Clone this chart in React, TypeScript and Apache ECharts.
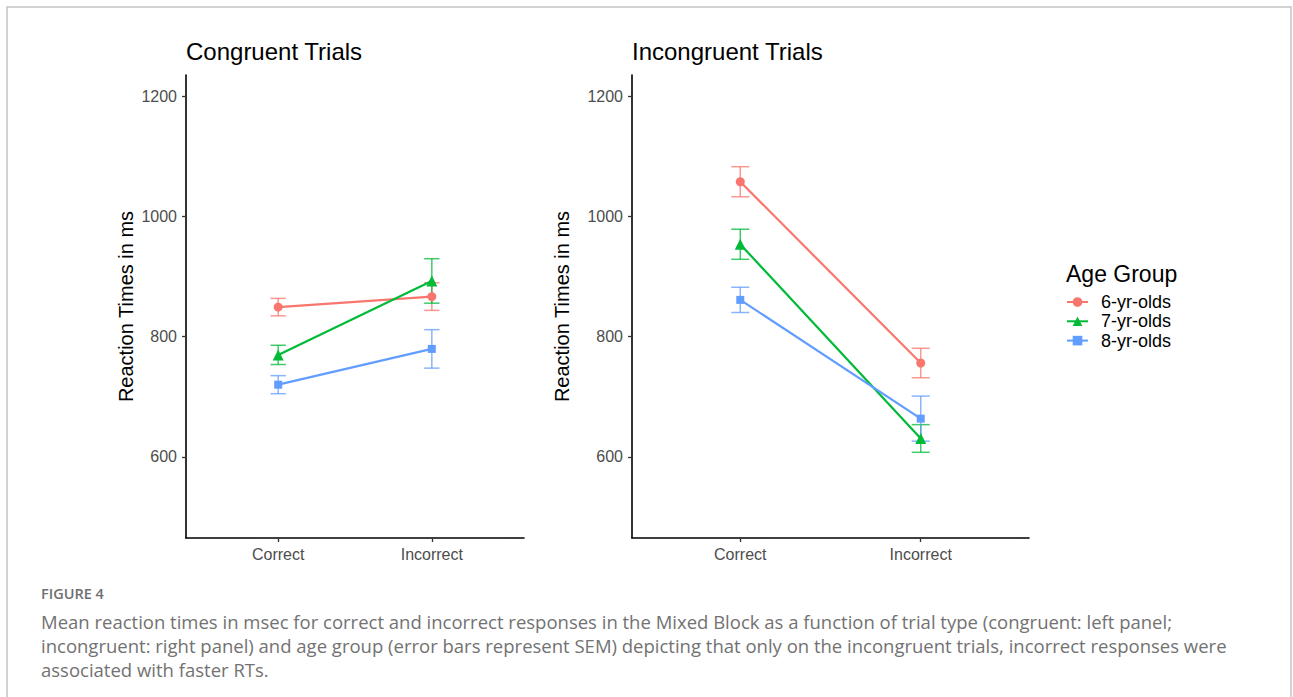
import React, { useEffect, useRef } from 'react';
import * as echarts from 'echarts';

const categories = ['Correct', 'Incorrect'];
const groups = ['6-yr-olds', '7-yr-olds', '8-yr-olds'];
const groupColors = ['#F8766D', '#00BA38', '#619CFF'];
const groupSymbols = ['circle', 'triangle', 'rect'];
const groupSymbolSizes = [9, 11, 8];

// mean reaction times (ms) per group: [Correct, Incorrect]
const congruentMeans = [
  [849, 866.5],
  [769.5, 892.5],
  [720, 779.5],
];
const congruentSem = [
  [14.5, 23],
  [16, 37],
  [15, 32],
];
const incongruentMeans = [
  [1057.5, 756],
  [953.5, 630.5],
  [861, 663.5],
];
const incongruentSem = [
  [25, 24.5],
  [25, 23],
  [21, 37.5],
];

const yTicks = [600, 800, 1000, 1200];
const xTickPositions = [1, 2];
const panelTitles = ['Congruent Trials', 'Incongruent Trials'];
const yAxisTitle = 'Reaction Times in ms';
const legendTitle = 'Age Group';
const captionHeading = 'FIGURE 4';
const captionLines = [
  'Mean reaction times in msec for correct and incorrect responses in the Mixed Block as a function of trial type (congruent: left panel;',
  'incongruent: right panel) and age group (error bars represent SEM) depicting that only on the incongruent trials, incorrect responses were',
  'associated with faster RTs.',
];

const FONT = '"Liberation Sans", Arial, sans-serif';
const CAPTION_FONT = '"Open Sans", "Noto Sans", sans-serif';

export default function App() {
  const ref = useRef<HTMLDivElement>(null);

  useEffect(() => {
    if (!ref.current) return;
    const chart = echarts.init(ref.current, undefined, { renderer: 'svg' });

    const panels = [
      { means: congruentMeans, sem: congruentSem },
      { means: incongruentMeans, sem: incongruentSem },
    ];
    const grids = [
      { left: 186, top: 75, width: 338, height: 463 },
      { left: 632, top: 75, width: 397, height: 463 },
    ];

    const xAxes = grids.map((_, i) => ({
      type: 'value',
      gridIndex: i,
      min: 0.4,
      max: 2.6,
      splitLine: { show: false },
      axisLine: { show: true, onZero: false, lineStyle: { color: '#000', width: 1.6 } },
      axisTick: {
        show: true,
        length: 4,
        customValues: xTickPositions,
        lineStyle: { color: '#333', width: 1.3 },
      },
      axisLabel: {
        customValues: xTickPositions,
        formatter: (v: number) => categories[Math.round(v) - 1] ?? '',
        fontSize: 16,
        color: '#4D4D4D',
        margin: 8,
        fontFamily: FONT,
      },
    }));

    const yAxes = grids.map((_, i) => ({
      type: 'value',
      gridIndex: i,
      min: 465,
      max: 1235,
      splitLine: { show: false },
      axisLine: { show: true, onZero: false, lineStyle: { color: '#000', width: 1.6 } },
      axisTick: {
        show: true,
        length: 4,
        customValues: yTicks,
        lineStyle: { color: '#333', width: 1.3 },
      },
      axisLabel: {
        customValues: yTicks,
        formatter: (v: number) => String(v),
        fontSize: 16,
        color: '#4D4D4D',
        margin: 9,
        fontFamily: FONT,
      },
      name: yAxisTitle,
      nameLocation: 'middle',
      nameGap: i === 0 ? 50 : 60,
      nameRotate: 90,
      nameTextStyle: { fontSize: 20, color: '#000', fontFamily: FONT },
    }));

    const series: any[] = [];
    panels.forEach((panel, p) => {
      groups.forEach((g, gi) => {
        series.push({
          name: g,
          type: 'line',
          xAxisIndex: p,
          yAxisIndex: p,
          data: panel.means[gi].map((m, ci) => [xTickPositions[ci], m]),
          symbol: groupSymbols[gi],
          symbolSize: groupSymbolSizes[gi],
          showSymbol: true,
          lineStyle: { color: groupColors[gi], width: 2.2 },
          itemStyle: { color: groupColors[gi] },
          z: 3,
        });
      });
    });
    panels.forEach((panel, p) => {
      groups.forEach((g, gi) => {
        const color = groupColors[gi];
        series.push({
          name: g,
          type: 'custom',
          xAxisIndex: p,
          yAxisIndex: p,
          z: 2,
          data: panel.means[gi].map((m, ci) => [
            xTickPositions[ci],
            m - panel.sem[gi][ci],
            m + panel.sem[gi][ci],
          ]),
          encode: { x: 0, y: [1, 2] },
          renderItem: (params: any, api: any) => {
            const x = api.value(0);
            const lo = api.value(1);
            const hi = api.value(2);
            const top = api.coord([x, hi]);
            const bot = api.coord([x, lo]);
            const hw = api.size([0.05, 0])[0];
            const style = { stroke: color, lineWidth: 1.5, opacity: 0.75 };
            return {
              type: 'group',
              children: [
                { type: 'line', shape: { x1: top[0], y1: top[1], x2: bot[0], y2: bot[1] }, style },
                { type: 'line', shape: { x1: top[0] - hw, y1: top[1], x2: top[0] + hw, y2: top[1] }, style },
                { type: 'line', shape: { x1: bot[0] - hw, y1: bot[1], x2: bot[0] + hw, y2: bot[1] }, style },
              ],
            };
          },
        });
      });
    });

    const graphics: any[] = [
      {
        type: 'rect',
        shape: { x: 7, y: 7, width: 1284, height: 720 },
        style: { fill: 'none', stroke: '#c4c4c4', lineWidth: 1.5 },
        silent: true,
      },
      {
        type: 'text',
        x: 1066,
        y: 274,
        style: {
          text: legendTitle,
          fontSize: 23,
          fontFamily: FONT,
          fill: '#000',
          textVerticalAlign: 'middle',
        },
      },
      {
        type: 'text',
        x: 41,
        y: 593,
        style: {
          text: captionHeading,
          fontSize: 14.5,
          fontWeight: 600,
          fontFamily: CAPTION_FONT,
          fill: '#6f6f6f',
          textVerticalAlign: 'middle',
        },
      },
      ...captionLines.map((line, i) => ({
        type: 'text',
        x: 41,
        y: 621 + i * 24,
        style: {
          text: line,
          fontSize: 18.5,
          lineHeight: 21,
          fontFamily: CAPTION_FONT,
          fill: '#727272',
          textVerticalAlign: 'middle',
        },
      })),
    ];

    chart.setOption({
      animation: false,
      backgroundColor: '#fff',
      title: panelTitles.map((t, i) => ({
        text: t,
        left: i === 0 ? 186 : 632,
        top: 39,
        padding: 0,
        textStyle: { fontSize: 24, fontWeight: 'normal', color: '#000', fontFamily: FONT },
      })),
      grid: grids,
      xAxis: xAxes,
      yAxis: yAxes,
      legend: {
        orient: 'vertical',
        left: 1066,
        top: 293,
        padding: 0,
        itemWidth: 21,
        itemHeight: 12,
        itemGap: 1.3,
        data: groups,
        textStyle: {
          fontSize: 18,
          lineHeight: 18,
          color: '#000',
          fontFamily: FONT,
          padding: [0, 0, 0, 8],
        },
      },
      graphic: graphics,
      series,
    });

    return () => chart.dispose();
  }, []);

  return (
    <div
      ref={ref}
      style={{ position: 'absolute', left: 0, top: 0, width: 1293, height: 697, background: '#fff' }}
    />
  );
}
